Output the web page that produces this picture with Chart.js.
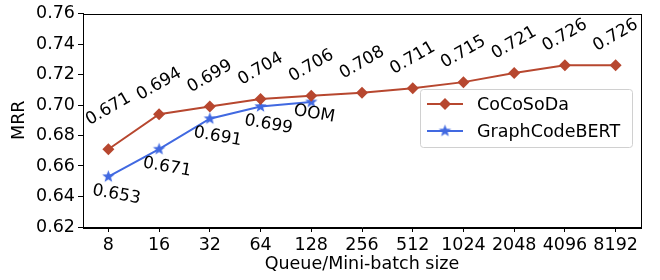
<!DOCTYPE html>
<html>
<head>
<meta charset="utf-8">
<script src="https://cdn.jsdelivr.net/npm/chart.js@4.4.0/dist/chart.umd.min.js"></script>
<style>
  html, body { margin: 0; padding: 0; background: #fff; }
  #wrap { width: 660px; height: 280px; }
</style>
</head>
<body>
<div id="wrap"><canvas id="chart" width="660" height="280"></canvas></div>
<script>
// data
const sizes = ['8', '16', '32', '64', '128', '256', '512', '1024', '2048', '4096', '8192'];
const cocosoda = [0.671, 0.694, 0.699, 0.704, 0.706, 0.708, 0.711, 0.715, 0.721, 0.726, 0.726];
const graphcodebert = [0.653, 0.671, 0.691, 0.699, 0.702];
const graphLabels = ['0.653', '0.671', '0.691', '0.699', 'OOM'];
const yTicks = [0.62, 0.64, 0.66, 0.68, 0.70, 0.72, 0.74, 0.76];

const RED = '#b7472f';
const BLUE = '#4169e1';
const FONT = "'DejaVu Sans', sans-serif";

// filled star marker like matplotlib '*'
function makeStar(r, color) {
  const c = document.createElement('canvas');
  c.width = c.height = Math.ceil(r * 2 + 2);
  const g = c.getContext('2d');
  const cx = c.width / 2, cy = c.height / 2;
  g.beginPath();
  for (let i = 0; i < 10; i++) {
    const rad = i % 2 === 0 ? r : r * 0.42;
    const a = -Math.PI / 2 + i * Math.PI / 5;
    const px = cx + rad * Math.cos(a), py = cy + rad * Math.sin(a);
    if (i === 0) g.moveTo(px, py); else g.lineTo(px, py);
  }
  g.closePath();
  g.fillStyle = color;
  g.fill();
  return c;
}
const star = makeStar(6.5, BLUE);

const valueLabels = {
  id: 'valueLabels',
  afterDatasetsDraw(chart) {
    const ctx = chart.ctx;
    ctx.save();
    ctx.font = '17px ' + FONT;
    ctx.fillStyle = '#000';
    ctx.textAlign = 'center';
    ctx.textBaseline = 'middle';
    chart.getDatasetMeta(0).data.forEach((p, i) => {
      const lift = i === 0 ? 40 : 30;
      ctx.save();
      ctx.translate(p.x, p.y - lift);
      ctx.rotate(-30 * Math.PI / 180);
      ctx.fillText(cocosoda[i].toFixed(3), 0, 0);
      ctx.restore();
    });
    chart.getDatasetMeta(1).data.forEach((p, i) => {
      const oom = graphLabels[i] === 'OOM';
      ctx.save();
      ctx.translate(p.x + (oom ? 3 : 8), p.y + (oom ? 12 : 18));
      ctx.rotate(10 * Math.PI / 180);
      ctx.fillText(graphLabels[i], 0, 0);
      ctx.restore();
    });
    ctx.restore();
  }
};

const frameAndLegend = {
  id: 'frameAndLegend',
  afterDraw(chart) {
    const ctx = chart.ctx;
    const a = chart.chartArea;
    ctx.save();
    ctx.strokeStyle = '#000';
    ctx.lineWidth = 1;
    ctx.strokeRect(Math.round(a.left) + 0.5, Math.round(a.top) + 0.5, Math.round(a.right - a.left), Math.round(a.bottom - a.top));

    // legend box inside the plot
    const bx = 420, by = 89, bw = 212, bh = 58;
    ctx.beginPath();
    ctx.roundRect(bx + 0.5, by + 0.5, bw, bh, 3);
    ctx.fillStyle = 'rgba(255,255,255,0.8)';
    ctx.fill();
    ctx.strokeStyle = '#d0d0d0';
    ctx.stroke();
    const rows = [
      { text: 'CoCoSoDa', color: RED, y: by + 15 },
      { text: 'GraphCodeBERT', color: BLUE, y: by + 42 }
    ];
    rows.forEach((r, k) => {
      ctx.strokeStyle = r.color;
      ctx.lineWidth = 2;
      ctx.beginPath();
      ctx.moveTo(bx + 7, r.y);
      ctx.lineTo(bx + 43, r.y);
      ctx.stroke();
      if (k === 0) {
        ctx.fillStyle = r.color;
        ctx.beginPath();
        ctx.moveTo(bx + 25, r.y - 6);
        ctx.lineTo(bx + 31, r.y);
        ctx.lineTo(bx + 25, r.y + 6);
        ctx.lineTo(bx + 19, r.y);
        ctx.closePath();
        ctx.fill();
      } else {
        ctx.drawImage(star, bx + 25 - star.width / 2, r.y - star.height / 2);
      }
      ctx.fillStyle = '#000';
      ctx.font = '17.5px ' + FONT;
      ctx.textAlign = 'left';
      ctx.textBaseline = 'middle';
      ctx.fillText(r.text, bx + 57, r.y + 1);
    });
    ctx.restore();
  }
};

new Chart(document.getElementById('chart'), {
  type: 'line',
  data: {
    labels: sizes,
    datasets: [
      {
        label: 'CoCoSoDa',
        data: cocosoda,
        borderColor: RED,
        backgroundColor: RED,
        borderWidth: 2,
        pointStyle: 'rectRot',
        pointRadius: 6,
        pointBorderWidth: 0,
        tension: 0
      },
      {
        label: 'GraphCodeBERT',
        data: graphcodebert,
        borderColor: BLUE,
        backgroundColor: BLUE,
        borderWidth: 2,
        pointStyle: star,
        tension: 0
      }
    ]
  },
  options: {
    responsive: false,
    animation: false,
    devicePixelRatio: 1,
    layout: { padding: { top: 10, right: 19, left: 0, bottom: 0 } },
    plugins: { legend: { display: false }, tooltip: { enabled: false } },
    scales: {
      x: {
        type: 'category',
        offset: true,
        grid: { drawOnChartArea: false, drawTicks: true, tickLength: 5, color: '#000', offset: false },
        border: { display: true, color: '#000', width: 1 },
        ticks: { color: '#000', font: { family: FONT, size: 17.5 }, padding: 3, maxRotation: 0, autoSkip: false },
        title: { display: true, text: 'Queue/Mini-batch size', color: '#000', font: { family: FONT, size: 17.5 }, padding: { top: 0, bottom: 5 } },
        afterFit: s => { s.height = 53; }
      },
      y: {
        min: yTicks[0],
        max: yTicks[yTicks.length - 1],
        afterBuildTicks: s => { s.ticks = yTicks.map(v => ({ value: v })); },
        grid: { drawOnChartArea: false, drawTicks: true, tickLength: 5, color: '#000' },
        border: { display: true, color: '#000', width: 1 },
        ticks: { color: '#000', font: { family: FONT, size: 17.5 }, padding: 3, callback: v => Number(v).toFixed(2) },
        title: { display: true, text: 'MRR', color: '#000', font: { family: FONT, size: 17.5 }, padding: { top: 9, bottom: 0 } },
        afterFit: s => { s.width = 83; }
      }
    }
  },
  plugins: [valueLabels, frameAndLegend]
});
</script>
</body>
</html>
